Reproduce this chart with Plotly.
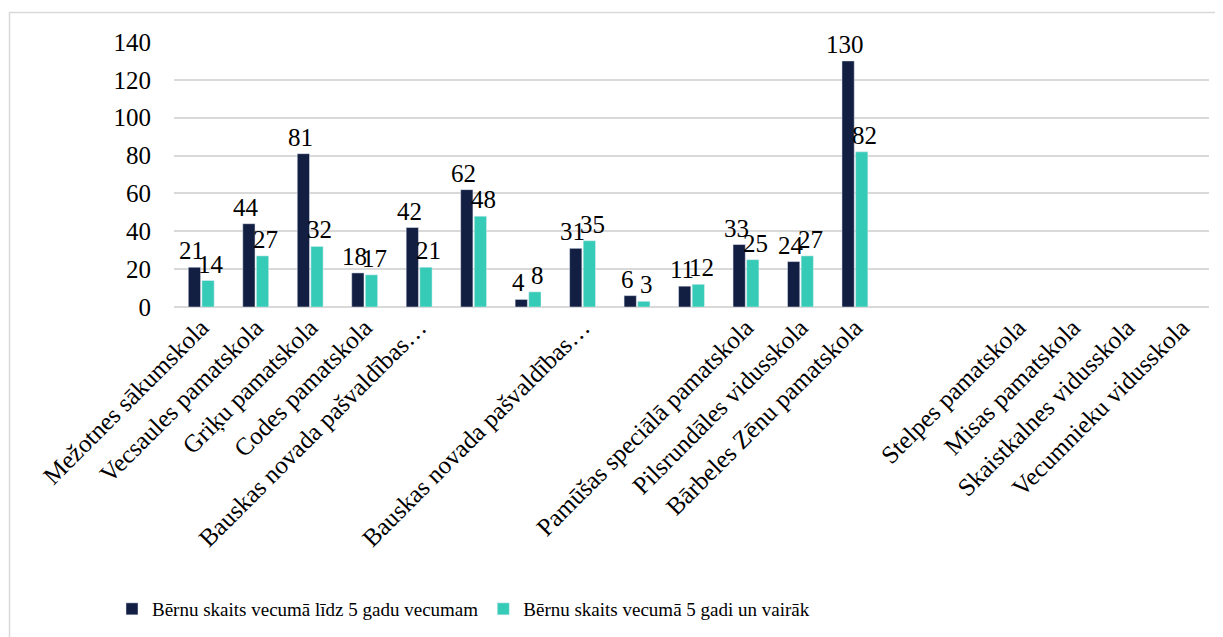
import plotly.graph_objects as go

categories = [
    "Mežotnes sākumskola",
    "Vecsaules pamatskola",
    "Griķu pamatskola",
    "Codes pamatskola",
    "Bauskas novada pašvaldības…",
    "",
    "",
    "Bauskas novada pašvaldības…",
    "",
    "",
    "Pamūšas speciālā pamatskola",
    "Pilsrundāles vidusskola",
    "Bārbeles Zēnu pamatskola",
    "",
    "",
    "Stelpes pamatskola",
    "Misas pamatskola",
    "Skaistkalnes vidusskola",
    "Vecumnieku vidusskola",
]
series1_name = "Bērnu skaits vecumā līdz 5 gadu vecumam"
series2_name = "Bērnu skaits vecumā 5 gadi un vairāk"
series1 = [21, 44, 81, 18, 42, 62, 4, 31, 6, 11, 33, 24, 130, None, None, None, None, None, None]
series2 = [14, 27, 32, 17, 21, 48, 8, 35, 3, 12, 25, 27, 82, None, None, None, None, None, None]
y_ticks = [0, 20, 40, 60, 80, 100, 120, 140]

x_idx = list(range(len(categories)))
FONT = "'Liberation Serif', 'Times New Roman', Times, serif"
OFF = 8  # page body margin
BARGAP = 0.5

fig = go.Figure()
fig.add_trace(go.Bar(x=x_idx, y=series1, name=series1_name, marker_color="#131E43"))
fig.add_trace(go.Bar(x=x_idx, y=series2, name=series2_name, marker_color="#36CBB6"))

# data labels, nudged apart a little like the original
slot = (1 - BARGAP) / 2
annotations = []
for vals, sign in ((series1, -1), (series2, 1)):
    for i, v in zip(x_idx, vals):
        if v is None:
            continue
        annotations.append(dict(
            x=i + sign * slot / 2, y=v, xref="x", yref="y", text=str(v),
            showarrow=False, yanchor="bottom", xanchor="center",
            xshift=sign * 3, yshift=1,
            font=dict(family=FONT, size=25, color="#000000"),
        ))

W, H = 1223 - OFF, 637 - OFF
L = 174 - OFF
T = 42 - OFF
R = W - (1209 - OFF)
B = H - (307 - OFF)
pw, ph = W - L - R, H - T - B

def px_x(p):
    return (p - OFF - L) / pw

def px_y(p):
    return (H - B - (p - OFF)) / ph

fig.update_layout(
    width=W, height=H,
    margin=dict(l=L, r=R, t=T, b=B, autoexpand=False),
    paper_bgcolor="white", plot_bgcolor="white",
    barmode="group", bargap=BARGAP, bargroupgap=0.1,
    font=dict(family=FONT, size=20, color="#000000"),
    showlegend=True,
    legend=dict(
        orientation="h", x=px_x(112), y=px_y(590), xanchor="left", yanchor="top",
        font=dict(family=FONT, size=19, color="#000000"),
        itemwidth=30, traceorder="normal",
    ),
    xaxis=dict(
        range=[-0.5, len(categories) - 0.5],
        tickmode="array", tickvals=x_idx, ticktext=categories,
        tickangle=-45, showgrid=False, showline=False, ticks="",
        tickfont=dict(family=FONT, size=25, color="#000000"),
        zeroline=False, automargin=False,
    ),
    yaxis=dict(
        range=[0, 140], tickmode="array", tickvals=y_ticks,
        showgrid=True, gridcolor="#D9D9D9", gridwidth=1.5,
        zeroline=True, zerolinecolor="#D9D9D9", zerolinewidth=1.5,
        showline=False, ticks="", ticklabelstandoff=22,
        tickfont=dict(family=FONT, size=25, color="#000000"),
        automargin=False,
    ),
    annotations=annotations,
    shapes=[dict(
        type="rect", xref="paper", yref="paper",
        x0=px_x(9.5), x1=px_x(1240), y0=px_y(660), y1=px_y(12.5),
        line=dict(color="#D9D9D9", width=1.5), fillcolor="rgba(0,0,0,0)", layer="below",
    )],
)

fig.write_html("out.html")
